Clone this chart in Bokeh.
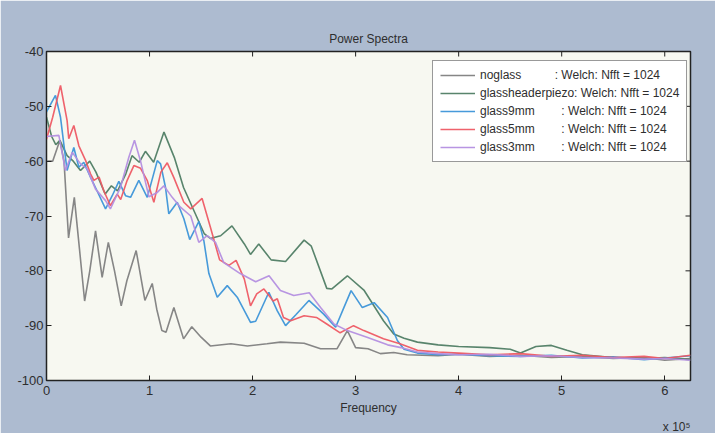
import math
from bokeh.plotting import figure
from bokeh.models import Legend, LegendItem, Range1d, FixedTicker, Title
from bokeh.embed import file_html
from bokeh.resources import INLINE

# ---- data (frequency in units of 1e5 Hz, power in dB) ----
noglass_f = [0, 0.06, 0.13, 0.17, 0.195, 0.214, 0.27, 0.32, 0.37, 0.42, 0.476, 0.54, 0.6, 0.66,
             0.725, 0.78, 0.87, 0.955, 1.026, 1.07, 1.12, 1.16, 1.236, 1.33, 1.41, 1.5, 1.59,
             1.79, 1.95, 2.14, 2.27, 2.5, 2.66, 2.82, 2.92, 3.0, 3.12, 3.24, 3.37, 3.5, 3.8,
             4.0, 4.3, 4.6, 4.9, 5.2, 5.5, 5.8, 6.0, 6.25]
noglass_db = [-60, -60, -56.2, -60, -68, -74, -66.6, -76, -85.5, -80, -72.7, -81.2, -74.8, -80,
              -86.4, -81.8, -76.3, -85.4, -82.3, -87, -90.9, -91.2, -86.7, -92.4, -90.2, -92.1, -93.7,
              -93.3, -93.7, -93.3, -93.0, -93.2, -94.2, -94.2, -90.9, -94.0, -94.2, -95.1, -94.9, -95.3, -95.5,
              -95.2, -95.6, -95.4, -95.8, -95.6, -96.0, -95.8, -96.3, -96.0]

piezo_f = [0, 0.05, 0.09, 0.13, 0.2, 0.26, 0.33, 0.42, 0.48, 0.57, 0.63, 0.69, 0.77, 0.83, 0.9,
           0.96, 1.04, 1.14, 1.24, 1.33, 1.43, 1.53, 1.59, 1.69, 1.8, 1.92, 1.98, 2.06, 2.18, 2.32,
           2.5, 2.57, 2.72, 2.77, 2.92, 3.08, 3.27, 3.37, 3.47, 3.6, 3.8, 4.0, 4.3, 4.5, 4.6, 4.75,
           4.9, 5.05, 5.2, 5.5, 5.8, 6.0, 6.25]
piezo_db = [-52, -55.5, -57, -56.2, -59, -60, -61.7, -60, -62, -66, -64.5, -65.4, -62.3, -59, -60.2,
            -58.2, -60.2, -54.7, -59.3, -64.8, -69, -73.2, -74.1, -73.6, -71.8, -75.1, -77, -75.1, -78, -78.3,
            -74.4, -75.5, -83.2, -83.3, -80.9, -83.5, -89.1, -91.5, -92.3, -93, -93.5, -93.8, -94, -94.3, -95,
            -93.8, -93.6, -94.5, -95.3, -95.8, -96, -95.8, -96.2]

g9_f = [0, 0.087, 0.136, 0.184, 0.2, 0.265, 0.314, 0.362, 0.427, 0.49, 0.573, 0.638, 0.702, 0.767,
        0.816, 0.896, 0.978, 1.075, 1.107, 1.155, 1.187, 1.269, 1.333, 1.39, 1.479, 1.527, 1.576,
        1.657, 1.754, 1.851, 1.98, 2.03, 2.158, 2.24, 2.32, 2.42, 2.547, 2.69, 2.806, 2.886, 2.956,
        3.065, 3.18, 3.31, 3.405, 3.47, 3.6, 3.8, 4.0, 4.3, 4.6, 4.9, 5.2, 5.5, 5.8, 6.0, 6.25]
g9_db = [-51, -48, -52, -59.3, -61.7, -57.5, -61.1, -60.2, -62.9, -65.4, -68.7, -66.3, -63.7, -66.3,
         -66.6, -63.5, -66.6, -59.9, -60.5, -64.8, -69.6, -67.5, -70.5, -74.3, -71, -74.5, -80.5,
         -84.8, -82.7, -84.8, -89.4, -89.2, -83.9, -87.3, -90, -88, -85.4, -87.9, -90.3, -86.7, -83.6,
         -86.7, -85.8, -88.5, -92.7, -94.3, -95, -95.3, -95.2, -95.5, -95.6, -95.4, -95.9, -95.7, -96.2, -95.9, -95.5]

g5_f = [0, 0.06, 0.136, 0.2, 0.216, 0.265, 0.314, 0.38, 0.427, 0.46, 0.51, 0.556, 0.62, 0.686, 0.72,
        0.783, 0.848, 0.913, 0.977, 1.042, 1.11, 1.172, 1.236, 1.333, 1.4, 1.51, 1.59, 1.68, 1.77,
        1.84, 1.92, 1.98, 2.04, 2.11, 2.2, 2.24, 2.3, 2.37, 2.5, 2.62, 2.72, 2.85, 2.98, 3.08, 3.27,
        3.43, 3.6, 3.8, 4.0, 4.3, 4.6, 4.9, 5.2, 5.5, 5.8, 6.0, 6.25]
g5_db = [-56, -52, -46.2, -52.6, -55.9, -53.5, -57.2, -59.9, -62.3, -63.5, -62.9, -65.4, -68.1, -66, -67,
         -63.5, -60.8, -61.3, -63.5, -67.5, -62, -60.3, -63, -67.5, -68.7, -66.8, -72, -78, -79,
         -78.1, -81.5, -86.4, -84.2, -83.3, -85.5, -85.1, -88.5, -89.1, -88.2, -88.5, -89.7, -91.3, -90, -90.9, -92.4,
         -93.3, -94.5, -94.8, -95.0, -95.3, -95.1, -95.6, -95.4, -95.8, -95.6, -96.0, -95.4]

g3_f = [0, 0.12, 0.184, 0.25, 0.33, 0.395, 0.476, 0.573, 0.62, 0.718, 0.799, 0.854, 0.913, 0.994,
        1.075, 1.139, 1.22, 1.3, 1.4, 1.478, 1.56, 1.64, 1.72, 1.88, 2.03, 2.16, 2.27, 2.4, 2.55,
        2.66, 2.79, 2.92, 3.11, 3.31, 3.44, 3.6, 3.8, 4.0, 4.3, 4.6, 4.9, 5.2, 5.5, 5.8, 6.0, 6.25]
g3_db = [-55.5, -55.3, -61.7, -58.4, -60.5, -61.4, -65.1, -67.2, -68.7, -64.8, -59.3, -56.2, -60, -66.5,
         -65.7, -64.5, -66.6, -68.4, -70, -74.8, -73.6, -74.8, -78.5, -80.5, -82, -80.9, -83.6, -84.5, -84,
         -86.7, -89.7, -90.9, -92.1, -93.5, -94, -94.8, -95.1, -95.3, -95.2, -95.6, -95.5, -95.8, -95.9, -96.1, -96.0, -96.3]

names = ["noglass", "glassheaderpiezo", "glass9mm", "glass5mm", "glass3mm"]
pads = [10, 0, 8, 8, 8]
suffix = ": Welch: Nfft = 1024"
colors = ["#808080", "#4f7d64", "#3d95d8", "#ee5a64", "#b48fe0"]
x_ticks = [0, 1, 2, 3, 4, 5, 6]
y_ticks = [-100, -90, -80, -70, -60, -50, -40]
x_min, x_max = 0, 6.25
y_min, y_max = -100, -40

series = [(noglass_f, noglass_db), (piezo_f, piezo_db), (g9_f, g9_db), (g5_f, g5_db), (g3_f, g3_db)]

FONT = "Liberation Sans"
TXT = "#2e2e2e"
INK = "#222222"

p = figure(width=715, height=433, output_backend="svg", toolbar_location=None,
           x_range=Range1d(x_min, x_max), y_range=Range1d(y_min, y_max),
           min_border_left=46, min_border_right=25, min_border_top=51, min_border_bottom=53,
           title="Power Spectra")
p.background_fill_color = "#f7f8f1"
p.border_fill_color = "#adbbd0"
p.outline_line_color = INK
p.outline_line_width = 1.5
p.grid.visible = False

p.title.align = "center"
p.title.text_font = FONT
p.title.text_font_size = "12px"
p.title.text_font_style = "normal"
p.title.text_color = TXT
p.title.standoff = 11

for ax in (p.xaxis[0], p.yaxis[0]):
    ax.major_tick_in = 5
    ax.major_tick_out = 0
    ax.minor_tick_line_color = None
    ax.axis_line_color = INK
    ax.major_tick_line_color = INK
    ax.major_label_text_font = FONT
    ax.major_label_text_font_size = "13px"
    ax.major_label_text_color = TXT
    ax.axis_label_text_font = FONT
    ax.axis_label_text_font_size = "12px"
    ax.axis_label_text_font_style = "normal"
    ax.axis_label_text_color = TXT

p.xaxis[0].ticker = FixedTicker(ticks=x_ticks)
p.yaxis[0].ticker = FixedTicker(ticks=y_ticks)
p.yaxis[0].major_label_overrides = {t: str(t) for t in y_ticks}
p.xaxis[0].axis_label = "Frequency"
p.xaxis[0].major_label_standoff = 5
p.xaxis[0].axis_label_standoff = 3
p.yaxis[0].major_label_standoff = 3

# inward ticks on the top and right edges of the box (MATLAB style)
p.ray(x=x_ticks, y=[y_max] * len(x_ticks), length=5, length_units="screen",
      angle=-math.pi / 2, line_color=INK, line_width=1)
p.ray(x=[x_max] * len(y_ticks), y=y_ticks, length=5, length_units="screen",
      angle=math.pi, line_color=INK, line_width=1)

items = []
for (f, db), name, pad, c in zip(series, names, pads, colors):
    r = p.line(f, db, line_color=c, line_width=1.6, line_alpha=0.95)
    items.append(LegendItem(label=name + "\u00a0" * pad + suffix, renderers=[r]))

legend = Legend(items=items, location=(386, 218))
legend.label_text_font = FONT
legend.label_text_font_size = "12px"
legend.label_text_color = TXT
legend.glyph_width = 35
legend.glyph_height = 14
legend.label_height = 14
legend.label_standoff = 5
legend.spacing = 4
legend.padding = 7
legend.margin = 0
legend.border_line_color = "#333333"
legend.border_line_width = 1
legend.background_fill_color = "#ffffff"
legend.background_fill_alpha = 1.0
p.add_layout(legend)

exp = Title(text="x 10\u2075", align="right", text_font=FONT, text_font_size="12px",
            text_font_style="normal", text_color=TXT, standoff=0)
p.add_layout(exp, "below")

open("out.html", "w").write(file_html(p, INLINE))
